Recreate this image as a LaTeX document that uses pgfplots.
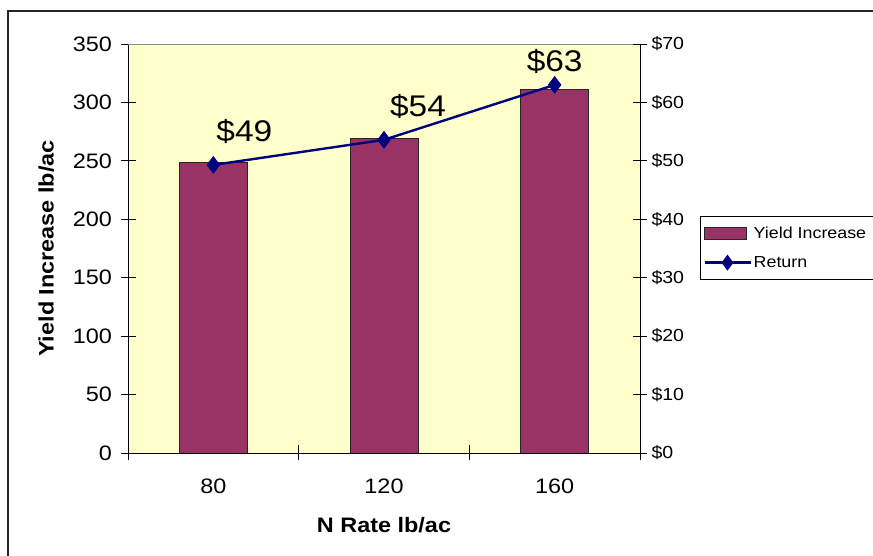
\documentclass[border=0pt]{standalone}
\usepackage{pgfplots}
\pgfplotsset{compat=1.18}
\usepackage{fontspec}
\setmainfont{Liberation Sans}[FakeStretch=1.12]
\definecolor{barfill}{HTML}{993366}
\definecolor{navyline}{HTML}{000080}
\definecolor{bgyellow}{HTML}{FFFFCC}
\pgfplotsset{
  barleg/.style={legend image code/.code={\draw[##1] (0bp,-6bp) rectangle (42bp,6bp);}},
  lineleg/.style={legend image code/.code={\draw[##1, mark repeat=2, mark phase=2] plot coordinates {(0bp,0bp) (23bp,0bp) (46bp,0bp)};}},
}
\begin{document}
\begin{tikzpicture}[x=1bp,y=1bp]
\useasboundingbox (0,0) rectangle (873,556);
\draw[line width=1.6bp, black!85] (8,-5) -- (8,545) -- (885,545);
\begin{axis}[
  at={(128bp,103bp)}, anchor=south west,
  scale only axis, width=512bp, height=409bp,
  xmin=0.5, xmax=3.5, ymin=0, ymax=350,
  axis background/.style={fill=bgyellow},
  axis line style={black, line width=0.9bp},
  axis x line*=bottom, axis y line*=left,
  xtick={0.5,1.5,2.5,3.5}, xticklabels={},
  extra x ticks={1,2,3}, extra x tick labels={80,120,160},
  extra x tick style={major tick length=0bp, xticklabel style={yshift=-22bp}},
  ytick={0,50,...,350},
  tick align=center, major tick length=15bp,
  tick style={black, line width=0.8bp},
  /pgf/number format/assume math mode=true,
  ticklabel style={font=\fontsize{21}{24}\selectfont},
  yticklabel style={xshift=-5bp},
  xlabel={\bfseries N Rate lb/ac},
  ylabel={\bfseries Yield Increase lb/ac},
  label style={font=\fontsize{21}{24}\selectfont},
  xlabel style={yshift=-10bp},
  ylabel style={yshift=12bp},
  legend style={at={(1.117,0.5795)}, anchor=north west, draw=black, line width=0.8bp, fill=white,
    font=\fontsize{16}{19}\selectfont, inner xsep=3bp, inner ysep=9bp, row sep=12bp,
    cells={anchor=west}},
  legend cell align=left,
]
\addplot[ybar, bar width=68bp, fill=barfill, draw=black!85, line width=0.8bp, barleg]
  coordinates {(1,249) (2,269) (3,311)};
\addlegendentry{\makebox[130bp][l]{Yield Increase}}
\addlegendimage{navyline, line width=2.4bp, mark=diamond*, mark size=6bp, lineleg}
\addlegendentry{Return}
\draw[black!45, line width=0.8bp] (rel axis cs:0,1) -- (rel axis cs:1,1);
\end{axis}
\begin{axis}[
  at={(128bp,103bp)}, anchor=south west,
  scale only axis, width=512bp, height=409bp,
  xmin=0.5, xmax=3.5, ymin=0, ymax=70,
  axis x line=none, axis y line*=right,
  axis line style={black, line width=0.9bp},
  ytick={0,10,...,70},
  yticklabel={\$\pgfmathprintnumber{\tick}},
  tick align=center, major tick length=14bp,
  tick style={black, line width=0.8bp},
  /pgf/number format/assume math mode=true,
  ticklabel style={font=\fontsize{17.5}{20}\selectfont},
  yticklabel style={xshift=1bp},
]
\addplot[navyline, line width=2.4bp, mark=diamond*, mark size=7bp,
  point meta=explicit symbolic,
  visualization depends on={value \thisrow{dx} \as \dx},
  visualization depends on={value \thisrow{dy} \as \dy},
  nodes near coords={\$\pgfplotspointmeta},
  nodes near coords style={black, anchor=base, inner sep=0pt, xshift=\dx bp, yshift=\dy bp,
    font=\fontsize{30}{33}\selectfont},
] table[x=x, y=y, meta=lab] {
x y lab dx dy
1 49.3 49 31 23
2 53.6 54 34 23
3 63.0 63 0 13
};
\end{axis}
\end{tikzpicture}
\end{document}
